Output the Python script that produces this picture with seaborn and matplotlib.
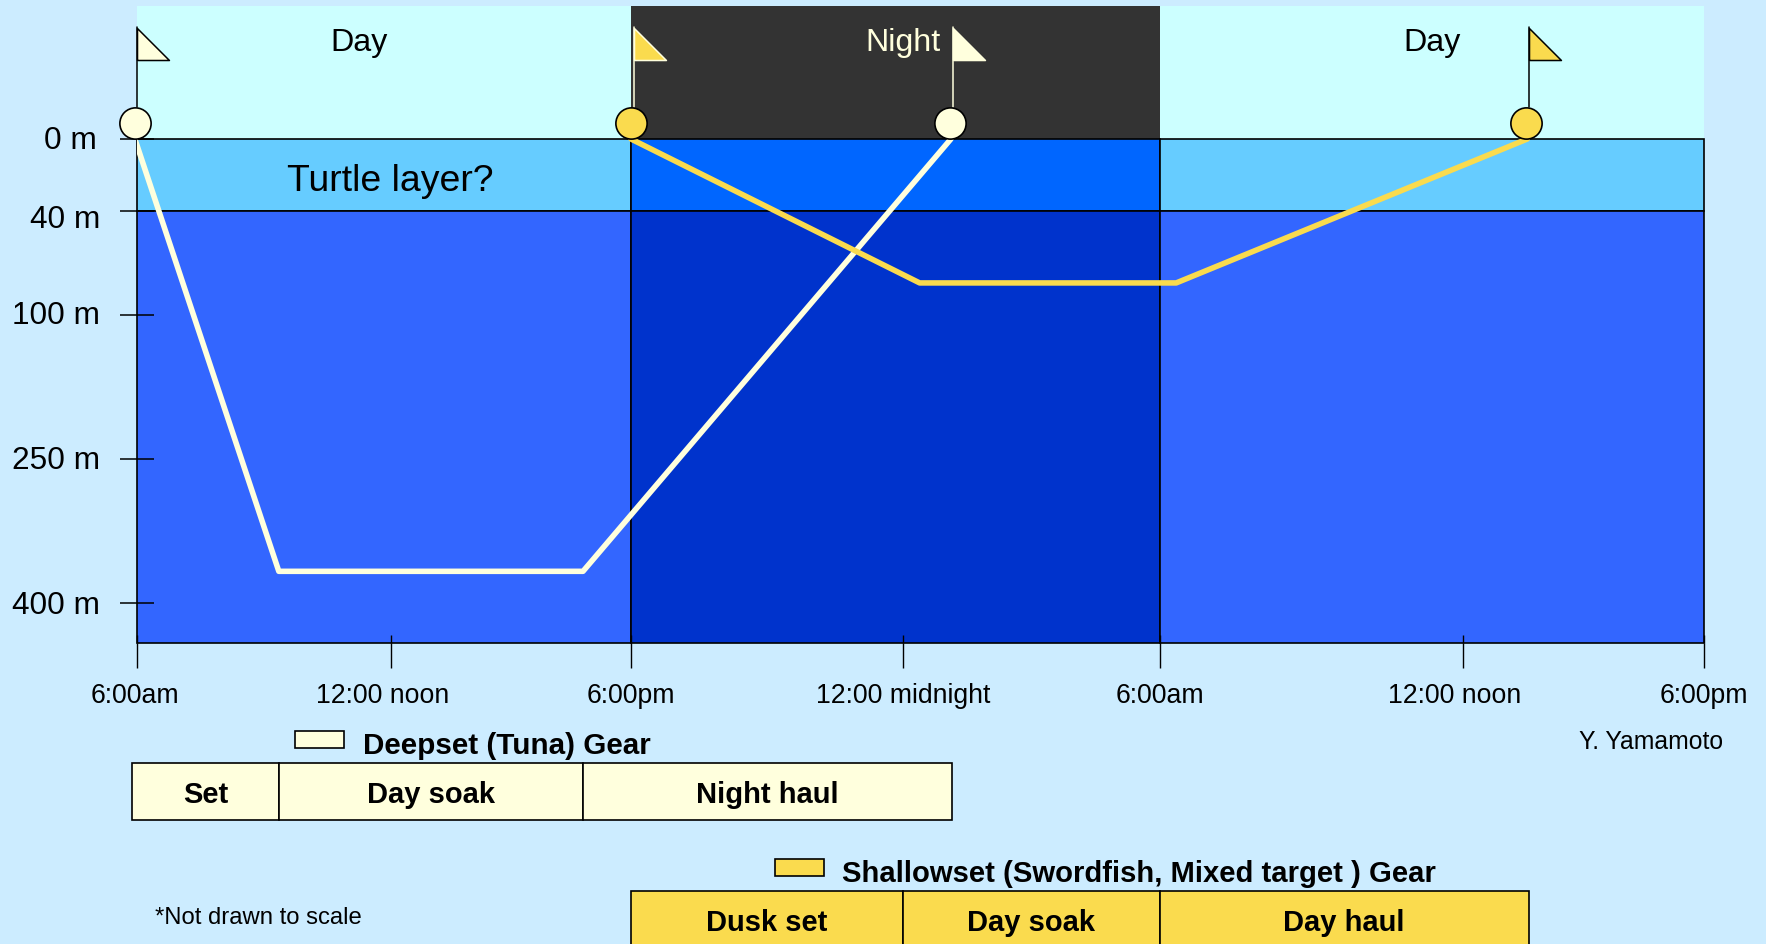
import numpy as np
import seaborn as sns
import pandas as pd
import matplotlib.pyplot as plt
from matplotlib.patches import Rectangle
from matplotlib.transforms import Affine2D

W, H = 1766, 944
BG = "#CCECFF"
CREAM = "#FFFFDD"
YELLOW = "#FADB4E"

# hours after the first 6:00am
hour_ticks = [0, 6, 12, 18, 24, 30, 36]
hour_labels = ["6:00am", "12:00 noon", "6:00pm", "12:00 midnight", "6:00am", "12:00 noon", "6:00pm"]
depth_ticks = [0, 40, 100, 250, 400]
depth_labels = ["0 m", "40 m", "100 m", "250 m", "400 m"]

# background blocks
period_names = ["Day", "Night", "Day"]
period_edges = [0, 12, 24, 36]
sky_colors = ["#CCFFFF", "#333333", "#CCFFFF"]
layer_edges = [0, 40, 442]
layer_colors = [["#66CCFF", "#3366FF"], ["#0066FF", "#0033CC"], ["#66CCFF", "#3366FF"]]
sky_top = -70

# gear profiles
deep_hours = [-0.05, 3.35, 10.8, 19.12]
deep_depths = [0, 367, 367, 0]
shallow_hours = [12, 18.39, 24.33, 31.6]
shallow_depths = [0, 81.5, 81.5, 0]

# flags and buoys, deepset / shallowset at set and haul
buoy_hours = [-0.05, 11.99, 19.11, 31.58]
pole_hours = [0, 12.06, 19.18, 31.64]
buoy_colors = [CREAM, YELLOW, CREAM, YELLOW]
pole_colors = ["black", CREAM, CREAM, "black"]
buoy_level = -8.4
pole_base = -16.8
flag_base = -41.8
flag_tip = -59

# schedule tables
deep_phases = ["Set", "Day soak", "Night haul"]
deep_edges = [-0.12, 3.35, 10.8, 19.15]
shallow_phases = ["Dusk set", "Day soak", "Day haul"]
shallow_edges = [12, 18, 24, 31.64]


# the axes are not drawn to scale, so both are piecewise
hour_knots = [-6, 0, 6, 12, 18, 24, 30, 36, 42]
hour_px = [-117, 137, 391, 631, 903, 1159.5, 1463, 1704, 1945]
depth_knots = [-200, -70, 0, 40, 100, 250, 400, 442, 600]
depth_px = [-241, 6, 139, 211, 315, 459, 603, 643, 795]


def hour_fwd(v):
    return np.interp(v, hour_knots, hour_px)


def hour_inv(v):
    return np.interp(v, hour_px, hour_knots)


def depth_fwd(v):
    return np.interp(v, depth_knots, depth_px)


def depth_inv(v):
    return np.interp(v, depth_px, depth_knots)


def put(x, y, s, size, **kw):
    kw.setdefault("ha", "center")
    fig.text(x / W, 1 - y / H, s, fontsize=size, va="center", **kw)


def shift(label, dx, dy):
    label.set_transform(label.get_transform() + Affine2D().translate(dx, dy))


sns.set_theme(style="white", rc={"axes.facecolor": BG, "figure.facecolor": BG})
plt.rcParams["font.family"] = ["Liberation Sans", "DejaVu Sans"]

fig = plt.figure(figsize=(W / 100, H / 100), dpi=100)
ax = fig.add_axes([137 / W, 1 - 643 / H, (1704 - 137) / W, (643 - 6) / H])
ax.set_xscale("function", functions=(hour_fwd, hour_inv))
ax.set_yscale("function", functions=(depth_fwd, depth_inv))

# sky and water blocks
for i in range(3):
    left, width = period_edges[i], period_edges[i + 1] - period_edges[i]
    ax.bar(left, -sky_top, width, bottom=sky_top, align="edge", color=sky_colors[i], linewidth=0, zorder=1)
    for j in range(2):
        ax.bar(left, layer_edges[j + 1] - layer_edges[j], width, bottom=layer_edges[j], align="edge",
               color=layer_colors[i][j], edgecolor="black", linewidth=1.2, zorder=1.5, clip_on=False)

# gear lines
deep = pd.DataFrame({"hour": deep_hours, "depth": deep_depths})
shallow = pd.DataFrame({"hour": shallow_hours, "depth": shallow_depths})
sns.lineplot(data=deep, x="hour", y="depth", color=CREAM, lw=4, sort=False, estimator=None, ax=ax, zorder=3)
sns.lineplot(data=shallow, x="hour", y="depth", color=YELLOW, lw=4, sort=False, estimator=None, ax=ax, zorder=3.1)

# flags
flag = [(0, 0), (0, 1), (1, 0), (0, 0)]
for bx, px_, bc, pc in zip(buoy_hours, pole_hours, buoy_colors, pole_colors):
    ax.plot([px_, px_], [pole_base, flag_tip], color=pc, lw=1.1, zorder=4, clip_on=False)
    ax.plot([px_], [flag_base], marker=flag, ms=46, mfc=bc, mec=pc, mew=1.1, zorder=4, ls="none", clip_on=False)
    ax.plot([bx], [buoy_level], marker="o", ms=22.5, mfc=bc, mec="black", mew=1.2, zorder=5, ls="none", clip_on=False)

ax.set_xlim(0, 36)
ax.set_ylim(442, sky_top)
ax.set_xlabel("")
ax.set_ylabel("")
ax.set_axisbelow(False)
for sp in ax.spines.values():
    sp.set_visible(False)

ax.set_xticks(hour_ticks)
ax.set_xticklabels(hour_labels)
ax.set_xticks(hour_ticks, minor=True)
ax.xaxis.remove_overlapping_locs = False
ax.set_yticks(depth_ticks)
ax.set_yticklabels(depth_labels)
ax.tick_params(axis="x", which="major", direction="out", length=18, width=1, color="black",
               bottom=True, pad=11, labelsize=19.2, labelcolor="black")
ax.tick_params(axis="x", which="minor", direction="in", length=6, width=1, color="black", bottom=True)
ax.tick_params(axis="y", which="major", direction="inout", length=23.8, width=1.1, color="black",
               left=True, pad=14.5, labelsize=22.8, labelcolor="black")
shift(ax.get_xticklabels()[0], -2, 0)
for k in (1, 5):
    shift(ax.get_xticklabels()[k], -8, 0)
shift(ax.get_yticklabels()[0], -3, 1.5)
shift(ax.get_yticklabels()[1], 0, -6)
shift(ax.get_yticklabels()[2], 0, 2)
shift(ax.get_yticklabels()[3], 0, 1.5)

# schedule tables, in a strip under the chart with the same hour scale
tb = fig.add_axes([137 / W, 0, (1704 - 137) / W, (H - 644) / H], sharex=ax)
tb.set_ylim(H, 644)
tb.axis("off")
for phases, edges, color, top, bottom in [(deep_phases, deep_edges, CREAM, 763, 820),
                                          (shallow_phases, shallow_edges, YELLOW, 891, 960)]:
    for i, name in enumerate(phases):
        tb.bar(edges[i], bottom - top, edges[i + 1] - edges[i], bottom=top, align="edge",
               color=color, edgecolor="black", linewidth=1.2, clip_on=False)
        mid = hour_inv((hour_fwd(edges[i]) + hour_fwd(edges[i + 1])) / 2)
        y_text = 795 if top == 763 else 923
        tb.text(mid, y_text, name, ha="center", va="center", fontsize=21, fontweight="bold", color="black")
ax.set_xlim(0, 36)

fig.add_artist(Rectangle((294.5 / W, 1 - 748 / H), 49.5 / W, 17 / H, fc=CREAM, ec="black", lw=1.2))
fig.add_artist(Rectangle((775 / W, 1 - 876 / H), 49 / W, 17 / H, fc=YELLOW, ec="black", lw=1.2))

# texts
for x, name, c in zip([359, 903, 1432], period_names, ["black", CREAM, "black"]):
    put(x, 43.5, name, 23.2, color=c)
put(390, 181.5, "Turtle layer?", 26.9, color="black")
put(363, 746, "Deepset (Tuna) Gear", 21.3, fontweight="bold", ha="left", color="black")
put(842, 874, "Shallowset (Swordfish, Mixed target ) Gear", 21.1, fontweight="bold", ha="left", color="black")
put(1651, 742, "Y. Yamamoto", 17.8, color="black")
put(155, 918, "*Not drawn to scale", 17.2, ha="left", color="black")

fig.savefig("out.png", dpi=100, facecolor=BG)
